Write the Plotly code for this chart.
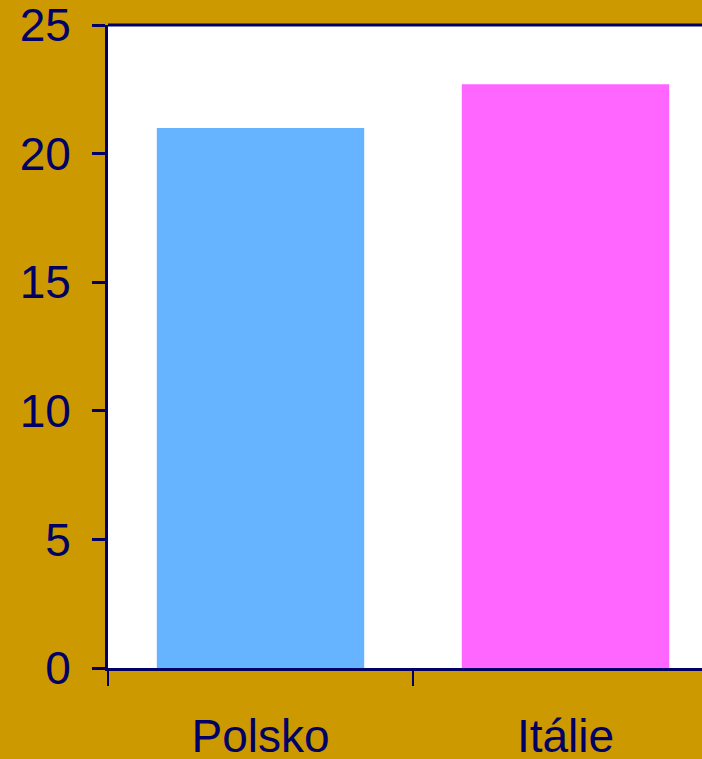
import plotly.graph_objects as go

categories = ["Polsko", "Itálie"]
values = [21.0, 22.7]
bar_colors = ["#66B3FF", "#FF66FF"]
y_ticks = [0, 5, 10, 15, 20, 25]

navy = "#000066"
gold = "#CC9900"

fig = go.Figure(
    go.Bar(
        x=categories,
        y=values,
        marker=dict(color=bar_colors, line=dict(width=0)),
        width=0.68,
        hoverinfo="x+y",
    )
)

fig.update_layout(
    width=702,
    height=759,
    paper_bgcolor=gold,
    plot_bgcolor="white",
    margin=dict(l=108, r=0, t=25, b=91, pad=0),
    showlegend=False,
    font=dict(family="Liberation Sans, Arial, sans-serif", color=navy, size=46),
    # top frame line of the plotting area
    shapes=[
        dict(
            type="line", xref="paper", yref="paper",
            x0=0, x1=1, y0=1, y1=1,
            line=dict(color=navy, width=3),
            layer="above",
        )
    ],
)

fig.update_xaxes(
    type="category",
    range=[-0.5, 1.4475],
    tickson="boundaries",
    ticks="outside",
    ticklen=15,
    tickwidth=2,
    tickcolor=navy,
    showline=True,
    linecolor=navy,
    linewidth=3,
    showgrid=False,
    automargin=False,
    ticklabelstandoff=26,
    ticklabeloverflow="allow",
    tickfont=dict(size=46, color=navy),
)

fig.update_yaxes(
    range=[0, 25],
    tickvals=y_ticks,
    ticks="outside",
    ticklen=13,
    tickwidth=3,
    tickcolor=navy,
    showline=True,
    linecolor=navy,
    linewidth=3,
    showgrid=False,
    zeroline=False,
    automargin=False,
    ticklabelstandoff=12,
    ticklabeloverflow="allow",
    tickfont=dict(size=46, color=navy),
)

fig.write_html("out.html")
